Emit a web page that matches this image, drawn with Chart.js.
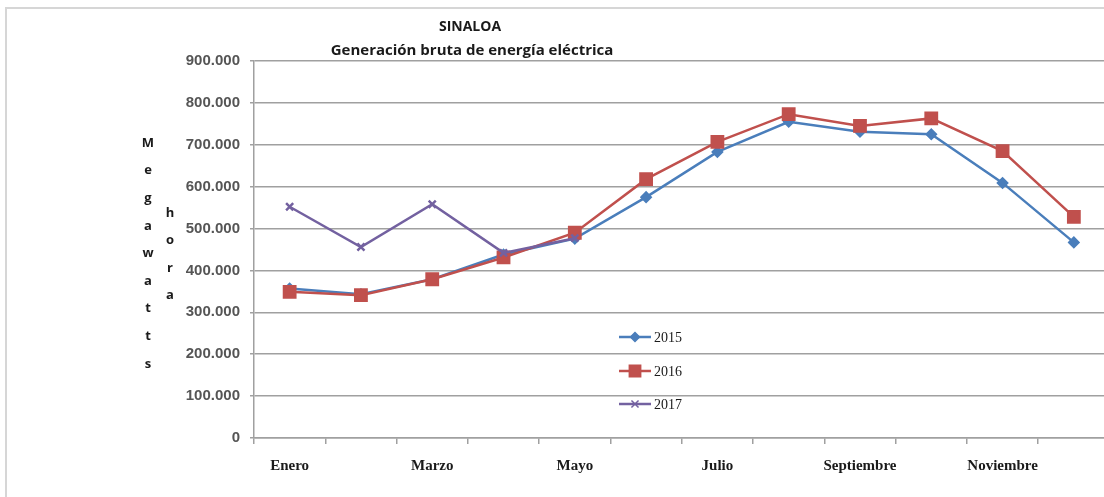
<!DOCTYPE html>
<html>
<head>
<meta charset="utf-8">
<script src="https://cdn.jsdelivr.net/npm/chart.js@4/dist/chart.umd.min.js"></script>
<style>
html, body { margin: 0; padding: 0; background: #fff; overflow: hidden; }
#contenitore { width: 1120px; height: 497px; position: relative; }
</style>
</head>
<body>
<div id="contenitore"><canvas id="myChart" width="1120" height="497"></canvas></div>
<script>
// dati (megawatts hora)
const meses = ["Enero", "Febrero", "Marzo", "Abril", "Mayo", "Junio", "Julio",
    "Agosto", "Septiembre", "Octubre", "Noviembre", "Diciembre"];

const valori2015 = [357000, 343000, 379000, 438000, 476000, 575000, 683000,
    755000, 731000, 725000, 609000, 467000];

const valori2016 = [349000, 341000, 379000, 431000, 490000, 618000, 707000,
    773000, 745000, 763000, 685000, 528000];

const valori2017 = [552000, 456000, 558000, 442000, 477000];

const anni = ["2015", "2016", "2017"];

const titolo = ["SINALOA", "Generación bruta de energía eléctrica"];

const etichettaY1 = "Megawatts";
const etichettaY2 = "hora";

const ctx = document.getElementById("myChart");

function formatta(v){
    return String(v).replace(/\B(?=(\d{3})+(?!\d))/g, ".");
}

const decorazioni = {

    id: "decorazioni",

    beforeDraw(chart){
        const c = chart.ctx;
        c.save();
        c.strokeStyle = "#d6d6d6";
        c.lineWidth = 2;
        c.strokeRect(6, 8, chart.width + 20, chart.height + 20);
        c.restore();
    },

    afterDraw(chart){
        const c = chart.ctx;
        c.save();

        // titolo
        c.fillStyle = "#1a1a1a";
        c.textAlign = "center";
        c.textBaseline = "middle";
        c.font = "bold 14px 'Open Sans'";
        c.fillText(titolo[0], 470, 27);
        c.font = "bold 15px 'Open Sans'";
        c.fillText(titolo[1], 472, 51);

        // titolo asse y, lettere in colonna
        c.font = "bold 13px 'Open Sans'";
        for(let i = 0; i < etichettaY1.length; i++){
            c.fillText(etichettaY1[i], 148, 143 + i * 27.6);
        }
        for(let i = 0; i < etichettaY2.length; i++){
            c.fillText(etichettaY2[i], 170, 213 + i * 27.4);
        }

        // legenda
        const righe = [337, 371, 404];
        chart.data.datasets.forEach((ds, i) => {
            const y = righe[i];
            c.strokeStyle = ds.borderColor;
            c.lineWidth = ds.borderWidth;
            c.beginPath();
            c.moveTo(619, y);
            c.lineTo(651, y);
            c.stroke();
            c.fillStyle = ds.backgroundColor;
            c.lineWidth = 1.5;
            Chart.helpers.drawPoint(c, {
                pointStyle: ds.pointStyle,
                radius: ds.pointRadius,
                rotation: 0,
                borderWidth: 1.5
            }, 635, y);
            c.fillStyle = "#1a1a1a";
            c.textAlign = "left";
            c.font = "14px 'Liberation Serif'";
            c.fillText(ds.label, 654, y + 1);
        });

        c.restore();
    }
};

new Chart(ctx, {

    type: "line",

    data: {

        labels: meses,

        datasets: [{
            label: anni[0],
            data: valori2015,
            borderColor: "#4A7EBB",
            backgroundColor: "#4A7EBB",
            borderWidth: 2.5,
            pointStyle: "rectRot",
            pointRadius: 4.5,
            order: 3
        }, {
            label: anni[1],
            data: valori2016,
            borderColor: "#C0504D",
            backgroundColor: "#C0504D",
            borderWidth: 2.5,
            pointStyle: "rect",
            pointRadius: 8,
            order: 2
        }, {
            label: anni[2],
            data: valori2017,
            borderColor: "#7361A0",
            backgroundColor: "#7361A0",
            borderWidth: 2.5,
            pointStyle: "crossRot",
            pointRadius: 5,
            order: 1
        }]
    },

    options: {

        responsive: false,
        animation: false,

        layout: {
            padding: { top: 61, right: 0, left: 0, bottom: 0 }
        },

        elements: {
            line: { tension: 0 }
        },

        plugins: {
            legend: { display: false },
            title: { display: false },
            tooltip: { enabled: false }
        },

        scales: {

            x: {
                offset: true,
                grid: {
                    display: true,
                    drawOnChartArea: false,
                    offset: true,
                    tickLength: 6,
                    color: "#a0a0a0",
                    lineWidth: 1.5
                },
                border: { color: "#a0a0a0", width: 1.5 },
                ticks: {
                    autoSkip: false,
                    maxRotation: 0,
                    padding: 13,
                    color: "#1a1a1a",
                    font: { family: "'Liberation Serif'", size: 15, weight: "bold" },
                    callback: (v, i) => i % 2 === 0 ? meses[i] : ""
                },
                afterFit: s => { s.height = 59; }
            },

            y: {
                min: 0,
                max: 900000,
                ticks: {
                    stepSize: 100000,
                    padding: 10,
                    color: "#555555",
                    font: { family: "'Liberation Sans'", size: 15, weight: "bold" },
                    callback: v => formatta(v)
                },
                grid: {
                    color: "#a0a0a0",
                    lineWidth: 1.5,
                    tickLength: 4
                },
                border: { color: "#a0a0a0", width: 1.5 },
                afterFit: s => { s.width = 254; }
            }
        }
    },

    plugins: [decorazioni]
});
</script>
</body>
</html>
